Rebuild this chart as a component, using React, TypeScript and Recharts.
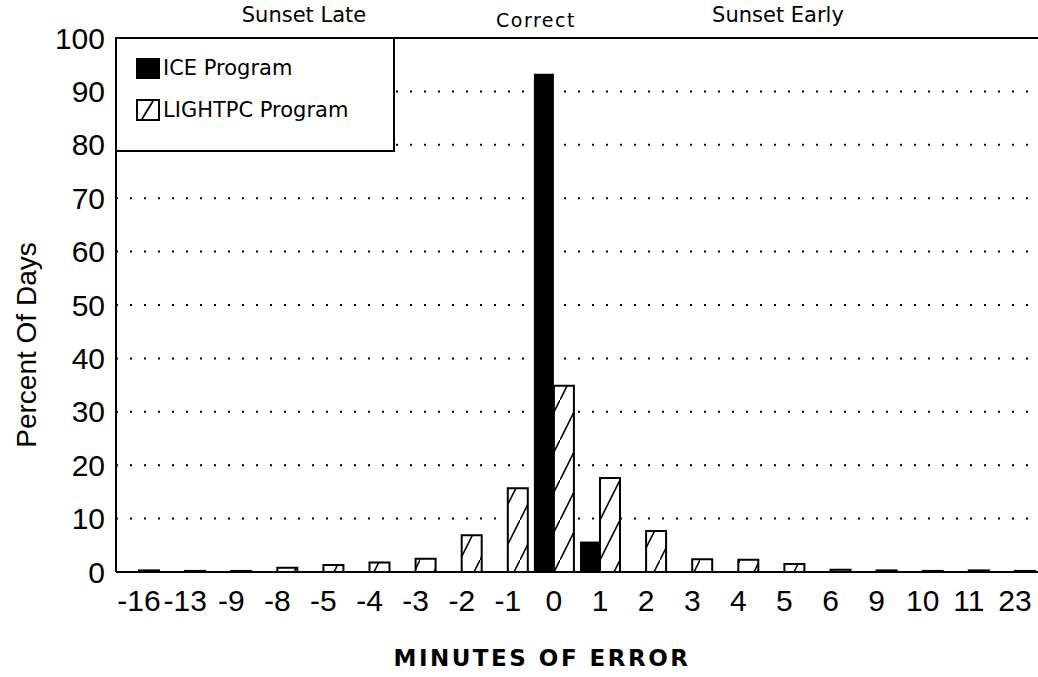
import React from 'react';
import { BarChart, Bar, XAxis, YAxis, CartesianGrid, ReferenceLine } from 'recharts';

const categories = ['-16', '-13', '-9', '-8', '-5', '-4', '-3', '-2', '-1', '0', '1', '2', '3', '4', '5', '6', '9', '10', '11', '23'];
const iceProgram = [0, 0, 0, 0, 0, 0, 0, 0, 0, 93.3, 5.7, 0, 0, 0, 0, 0, 0, 0, 0, 0];
const lightpcProgram = [0.3, 0.2, 0.2, 0.8, 1.3, 1.8, 2.5, 6.9, 15.7, 34.9, 17.6, 7.7, 2.4, 2.3, 1.5, 0.4, 0.3, 0.2, 0.3, 0.2];
const yTicks = [0, 10, 20, 30, 40, 50, 60, 70, 80, 90, 100];
const seriesNames = ['ICE Program', 'LIGHTPC Program'];
const regionLabels = ['Sunset Late', 'Correct', 'Sunset Early'];
const xAxisTitle = 'MINUTES OF ERROR';
const yAxisTitle = 'Percent Of Days';

const data = categories.map((c, i) => ({ minute: c, ice: iceProgram[i], lightpc: lightpcProgram[i] }));

const tickFont = '"Liberation Sans", Arial, Helvetica, sans-serif';
const labelFont = '"DejaVu Sans", "Liberation Sans", sans-serif';

export default function App() {
  return (
    <div style={{ position: 'absolute', left: 0, top: 0, width: 1038, height: 677, background: '#fff', overflow: 'hidden' }}>
      <svg width={0} height={0} style={{ position: 'absolute' }}>
        <defs>
          <pattern id="hatch" patternUnits="userSpaceOnUse" width={20} height={40}>
            <rect x={0} y={0} width={20} height={40} fill="#fff" />
            <line x1={0} y1={40} x2={20} y2={0} stroke="#000" strokeWidth={1.6} />
          </pattern>
        </defs>
      </svg>
      <BarChart
        width={1038}
        height={677}
        data={data}
        margin={{ top: 38, right: 0, left: 0, bottom: 0 }}
        barSize={20}
        barGap={0}
      >
        <CartesianGrid vertical={false} stroke="#000" strokeWidth={2} strokeDasharray="2 12" />
        <XAxis
          dataKey="minute"
          interval={0}
          height={105}
          tickLine={false}
          tickSize={0}
          tickMargin={18}
          axisLine={{ stroke: '#000', strokeWidth: 2 }}
          tick={{ fill: '#000', fontSize: 30, fontFamily: tickFont }}
        />
        <YAxis
          width={116}
          domain={[0, 100]}
          ticks={yTicks}
          interval={0}
          tickLine={false}
          tickSize={0}
          tickMargin={11}
          axisLine={{ stroke: '#000', strokeWidth: 2 }}
          tick={{ fill: '#000', fontSize: 30, fontFamily: tickFont }}
        />
        <ReferenceLine y={100} stroke="#000" strokeWidth={2} />
        <Bar dataKey="ice" name={seriesNames[0]} fill="#000" isAnimationActive={false} />
        <Bar dataKey="lightpc" name={seriesNames[1]} fill="url(#hatch)" stroke="#000" strokeWidth={2} isAnimationActive={false} />
      </BarChart>

      {/* Legend */}
      <div
        style={{
          position: 'absolute',
          left: 115,
          top: 37,
          width: 276,
          height: 111,
          border: '2px solid #000',
          background: '#fff',
          fontFamily: labelFont,
          fontSize: 21,
          color: '#000',
        }}
      >
        <div style={{ position: 'absolute', left: 19, top: 19, display: 'flex', alignItems: 'center' }}>
          <svg width={24} height={21}>
            <rect x={0} y={0} width={24} height={21} fill="#000" />
          </svg>
          <span style={{ marginLeft: 3, lineHeight: '21px' }}>{seriesNames[0]}</span>
        </div>
        <div style={{ position: 'absolute', left: 19, top: 60, display: 'flex', alignItems: 'center' }}>
          <svg width={24} height={22}>
            <rect x={1} y={1} width={22} height={20} fill="#fff" stroke="#000" strokeWidth={2} />
            <line x1={6} y1={20} x2={17} y2={2} stroke="#000" strokeWidth={1.8} />
          </svg>
          <span style={{ marginLeft: 3, lineHeight: '22px' }}>{seriesNames[1]}</span>
        </div>
      </div>

      {/* Region labels */}
      <div style={{ position: 'absolute', left: 304, top: 15, transform: 'translate(-50%, -50%)', fontFamily: labelFont, fontSize: 21, lineHeight: 1, whiteSpace: 'nowrap' }}>
        {regionLabels[0]}
      </div>
      <div style={{ position: 'absolute', left: 536, top: 20, transform: 'translate(-50%, -50%)', fontFamily: labelFont, fontSize: 19, letterSpacing: 1.5, lineHeight: 1, whiteSpace: 'nowrap' }}>
        {regionLabels[1]}
      </div>
      <div style={{ position: 'absolute', left: 778, top: 15, transform: 'translate(-50%, -50%)', fontFamily: labelFont, fontSize: 21, lineHeight: 1, whiteSpace: 'nowrap' }}>
        {regionLabels[2]}
      </div>

      {/* Axis titles */}
      <div style={{ position: 'absolute', left: 542, top: 658, transform: 'translate(-50%, -50%)', fontFamily: labelFont, fontWeight: 'bold', fontSize: 23, letterSpacing: 2.5, lineHeight: 1, whiteSpace: 'nowrap' }}>
        {xAxisTitle}
      </div>
      <div style={{ position: 'absolute', left: 27, top: 345, transform: 'translate(-50%, -50%) rotate(-90deg)', fontFamily: tickFont, fontSize: 28, lineHeight: 1, whiteSpace: 'nowrap' }}>
        {yAxisTitle}
      </div>
    </div>
  );
}
